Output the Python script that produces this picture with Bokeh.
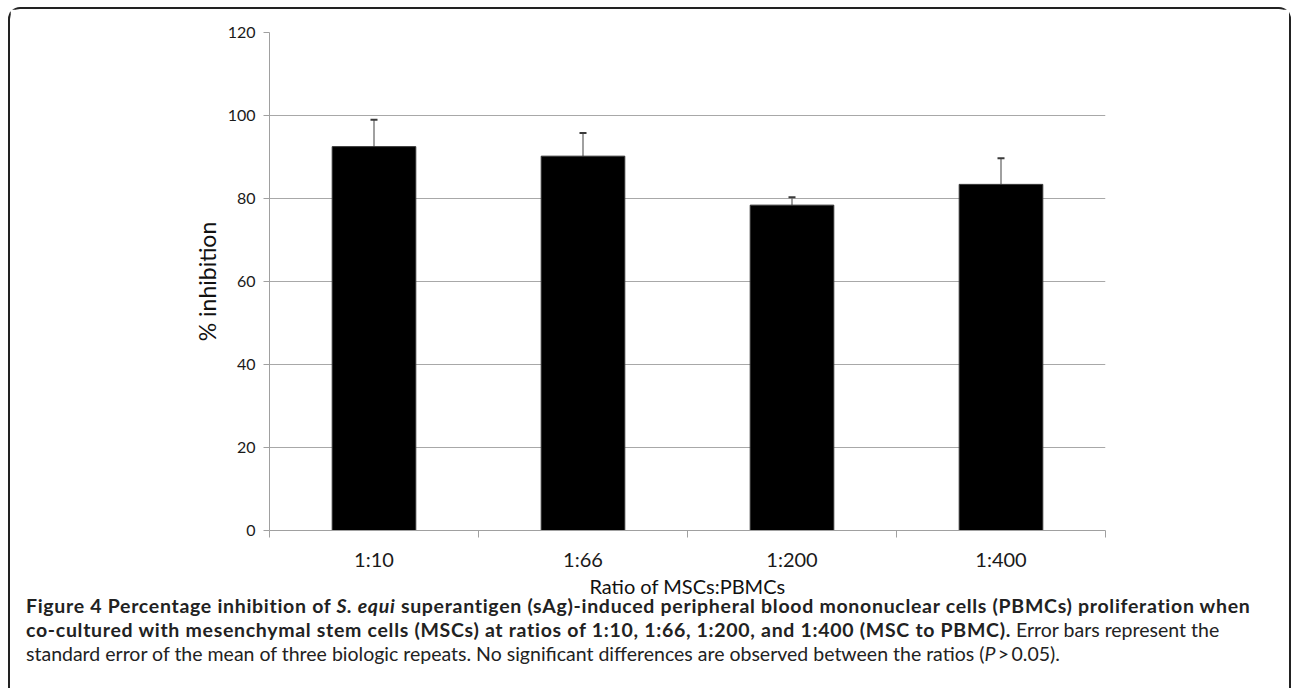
from bokeh.plotting import figure
from bokeh.models import Range1d, FixedTicker, Whisker, TeeHead, ColumnDataSource, Div
from bokeh.layouts import column
from bokeh.embed import file_html
from bokeh.resources import INLINE

# ---- data ----
categories = ["1:10", "1:66", "1:200", "1:400"]
inhibition = [92.5, 90.2, 78.4, 83.4]
sem = [6.5, 5.6, 1.9, 6.3]
y_ticks = [0, 20, 40, 60, 80, 100, 120]
x_title = "Ratio of MSCs:PBMCs"
y_title = "% inhibition"

BOLD = "<b style='letter-spacing:0.7px'>"
caption_html = (
    "<div style='position:relative; top:-6px'>"
    + BOLD + "Figure 4 Percentage inhibition of <i>S. equi</i> superantigen (sAg)-induced "
    "peripheral blood mononuclear cells (PBMCs) proliferation when</b><br>"
    + BOLD + "co-cultured with mesenchymal stem cells (MSCs) at ratios of 1:10, 1:66, 1:200, "
    "and 1:400 (MSC to PBMC).</b> "
    "Error bars represent the<br>"
    "standard error of the mean of three biologic repeats. "
    "No significant differences are observed between the ratios "
    "(<i>P</i>&#8201;&gt;&#8201;0.05)."
    "</div>"
)

# ---- layout (canvas pixels) ----
W, H = 1279, 591
L, R, T = 259, 1095, 23
BOTTOM_MARGIN = 63
YMAX = 120
NCAT = len(categories)

x_pos = [i + 0.5 for i in range(NCAT)]
src = ColumnDataSource(dict(
    x=x_pos, top=inhibition,
    upper=[v + e for v, e in zip(inhibition, sem)],
    cat=categories))

p = figure(width=W, height=H, output_backend="svg", toolbar_location=None,
           x_range=Range1d(0, NCAT), y_range=Range1d(0, YMAX),
           min_border_left=L, min_border_right=W - R,
           min_border_top=T, min_border_bottom=BOTTOM_MARGIN)
p.outline_line_color = None
p.background_fill_color = "white"
p.border_fill_color = "white"

FONT = "Lato"
AX = "#a0a0a0"

# y axis
p.yaxis.ticker = FixedTicker(ticks=y_ticks)
p.yaxis.axis_line_color = AX
p.yaxis.major_tick_line_color = AX
p.yaxis.major_tick_out = 6
p.yaxis.major_tick_in = 0
p.yaxis.minor_tick_line_color = None
p.yaxis.major_label_standoff = 8
p.yaxis.major_label_text_font = FONT
p.yaxis.major_label_text_font_size = "16px"
p.yaxis.major_label_text_color = "#1a1a1a"
p.yaxis.axis_label = y_title
p.yaxis.axis_label_text_font = FONT
p.yaxis.axis_label_text_font_size = "23px"
p.yaxis.axis_label_text_font_style = "normal"
p.yaxis.axis_label_text_color = "#111111"
p.yaxis.axis_label_standoff = 4

# x axis: labels at category centres, ticks at category boundaries
p.xaxis.ticker = FixedTicker(ticks=x_pos, minor_ticks=list(range(NCAT + 1)))
p.xaxis.major_label_overrides = {x: c for x, c in zip(x_pos, categories)}
p.xaxis.axis_line_color = AX
p.xaxis.major_tick_line_color = None
p.xaxis.major_tick_out = 0
p.xaxis.major_tick_in = 0
p.xaxis.minor_tick_line_color = AX
p.xaxis.minor_tick_out = 7
p.xaxis.minor_tick_in = 0
p.xaxis.major_label_standoff = 9
p.xaxis.major_label_text_font = FONT
p.xaxis.major_label_text_font_size = "20px"
p.xaxis.major_label_text_color = "#1a1a1a"
p.xaxis.axis_label = x_title
p.xaxis.axis_label_text_font = FONT
p.xaxis.axis_label_text_font_size = "20px"
p.xaxis.axis_label_text_font_style = "normal"
p.xaxis.axis_label_text_color = "#111111"
p.xaxis.axis_label_standoff = 0

p.xgrid.visible = False
p.ygrid.ticker = FixedTicker(ticks=y_ticks)
p.ygrid.grid_line_color = "#a8a8a8"
p.ygrid.grid_line_width = 1

# bars
p.vbar(x="x", top="top", width=0.4, bottom=0, source=src,
       fill_color="black", line_color="#333333", line_width=1)

# error bars (upper only)
p.add_layout(Whisker(source=src, base="x", upper="upper", lower="top",
                     line_color="#808080", line_width=1.5,
                     upper_head=TeeHead(size=7, line_color="#3a3a3a", line_width=2),
                     lower_head=None))

cap = Div(text=caption_html, width=W, height=88,
          styles={"font-family": "Lato, sans-serif", "font-size": "19.5px",
                  "line-height": "24px", "color": "#222222",
                  "white-space": "nowrap", "padding-left": "16px",
                  "padding-top": "0px", "margin": "0"})

lay = column(p, cap, spacing=0,
             styles={"border": "2px solid #222222", "border-bottom": "none",
                     "border-radius": "12px 12px 0 0",
                     "margin": "7px 0 0 8px", "background": "white"})

open("out.html", "w").write(file_html(lay, INLINE))
